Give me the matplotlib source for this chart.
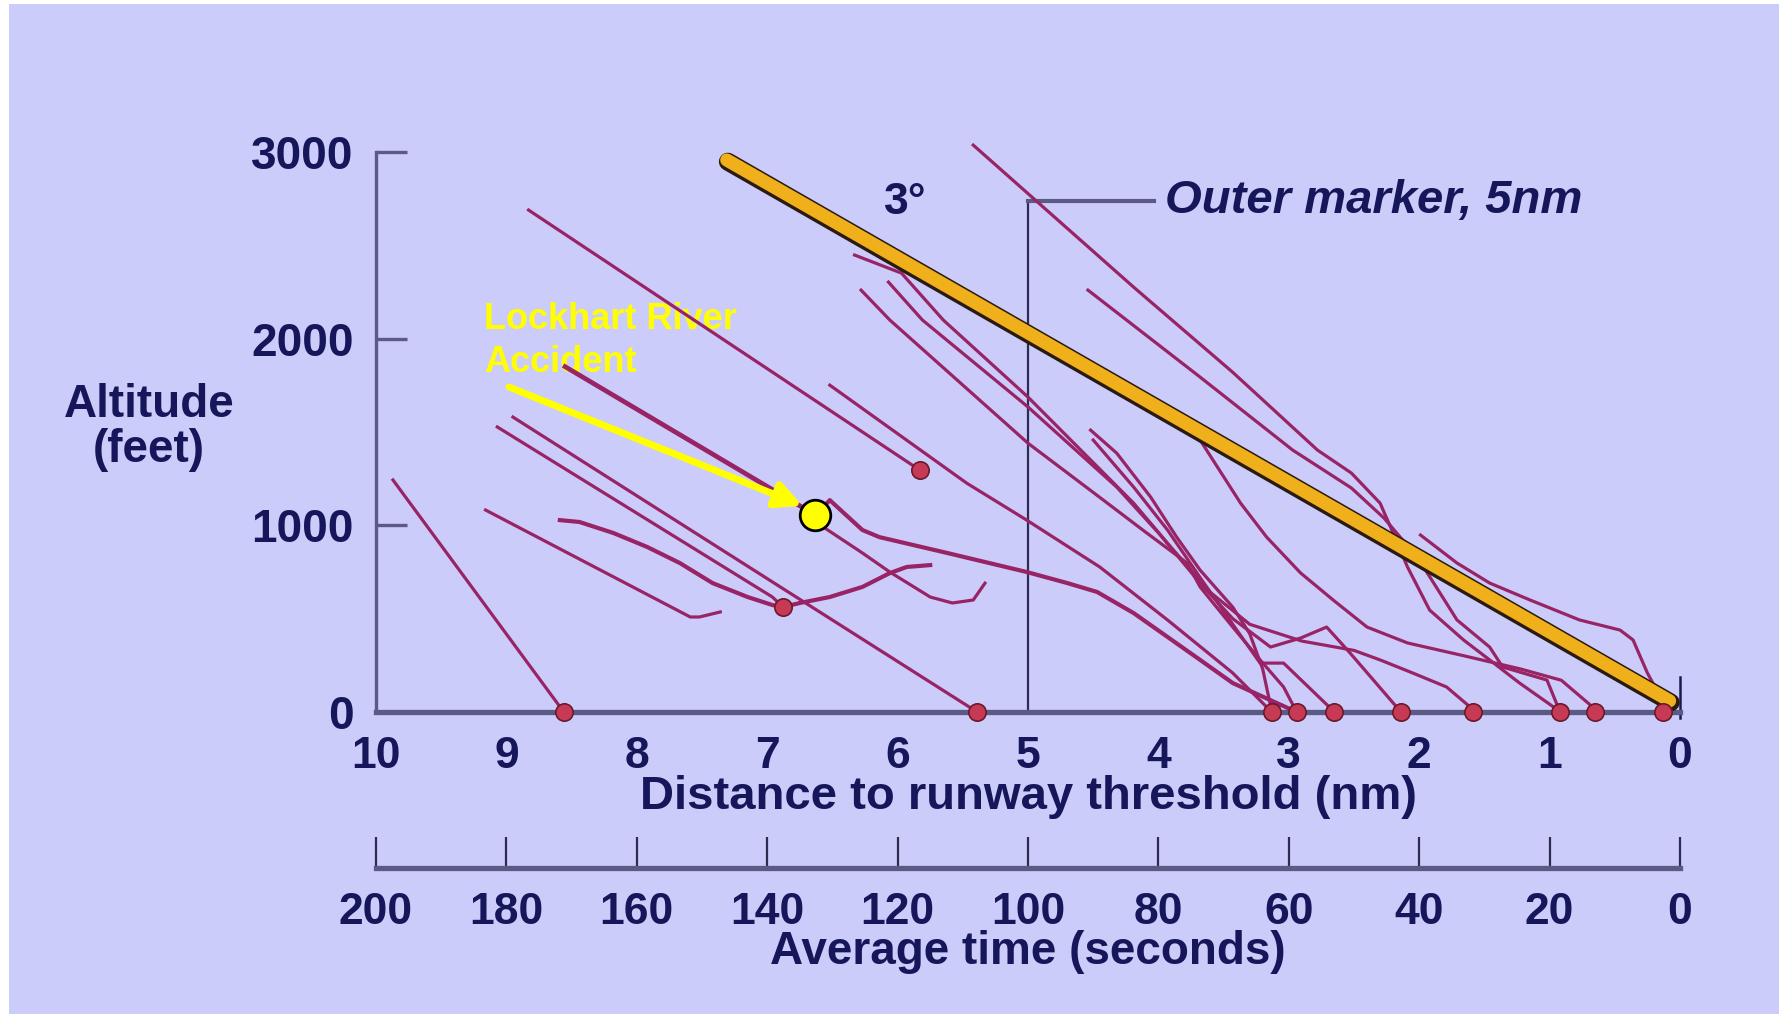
import matplotlib
matplotlib.use("Agg")
import matplotlib.pyplot as plt
import matplotlib.patheffects as pe
from matplotlib.patches import Rectangle

plt.rcParams["font.family"] = ["Liberation Sans", "DejaVu Sans"]
plt.rcParams["font.weight"] = "bold"

# axis scales
dist_ticks = [10, 9, 8, 7, 6, 5, 4, 3, 2, 1, 0]
time_ticks = [200, 180, 160, 140, 120, 100, 80, 60, 40, 20, 0]
alt_ticks = [0, 1000, 2000, 3000]

# 3 degree reference profile (nm, ft)
glide_dist = [7.31, 0.08]
glide_alt = [2957, 60]

# outer marker
om_dist = 5.0
om_alt = 2735
om_label_end = 4.03

# accident position and pointer tail
accident = (6.63, 1055)
pointer_tail = (8.98, 1741)
pointer_tip = (6.73, 1105)

# recorded approach profiles, (distance nm, altitude ft)
path_a = [(9.87, 1243), (8.56, 0)]
path_b = [(9.16, 1082), (7.59, 509), (7.52, 509), (7.36, 536)]
path_c = [(8.59, 1028), (8.44, 1018), (8.18, 959), (7.92, 884), (7.67, 798), (7.42, 691),
          (7.15, 616), (6.96, 573), (6.88, 562), (6.75, 584), (6.52, 616), (6.27, 670),
          (6.06, 744), (5.93, 777), (5.75, 787)]
path_d = [(9.07, 1527), (6.96, 616), (6.88, 562)]
path_e = [(8.95, 1580), (5.39, 0)]
path_lockhart = [(8.55, 1850), (6.63, 1055)]
path_f = [(6.63, 1055), (6.52, 1135), (6.27, 975), (6.14, 937), (5.62, 852), (5.01, 750),
          (4.70, 691), (4.47, 643), (4.19, 530), (3.93, 402), (3.68, 279), (3.43, 155),
          (2.94, 0)]
path_g = [(6.60, 1030), (6.57, 991), (6.27, 852), (6.06, 750), (5.75, 616), (5.58, 584),
          (5.42, 600), (5.35, 670), (5.33, 690)]
path_h = [(8.83, 2689), (5.83, 1296)]
path_i = [(6.52, 1751), (5.47, 1226), (5.01, 1028), (4.45, 777), (3.93, 493), (3.43, 209),
          (3.17, 27), (3.13, 0)]
path_j = [(6.28, 2260), (6.06, 2100), (5.0, 1440), (4.45, 1150), (4.12, 975), (3.78, 798),
          (3.68, 670), (3.43, 455), (3.22, 279), (3.04, 134), (2.94, 0)]
path_k = [(6.07, 2303), (5.81, 2100), (5.0, 1634), (4.32, 1205), (4.0, 960), (3.68, 690),
          (3.43, 500), (3.14, 348), (2.91, 396), (2.71, 455), (2.53, 316), (2.14, 0)]
path_l = [(6.33, 2448), (5.97, 2351), (5.65, 2100), (5.0, 1687), (4.19, 1119), (3.9, 880),
          (3.6, 640), (3.3, 470), (2.9, 380), (2.5, 330), (2.30, 279), (2.05, 209),
          (1.79, 134), (1.61, 27), (1.59, 0)]
path_m = [(4.52, 1510), (4.32, 1387), (4.06, 1152), (3.86, 937), (3.68, 760), (3.43, 562),
          (3.30, 420), (3.20, 230), (3.13, 0)]
path_n = [(4.50, 1457), (4.19, 1205), (3.93, 975), (3.68, 720), (3.43, 470), (3.22, 262),
          (3.04, 262), (2.65, 0)]
path_o = [(5.42, 3037), (4.19, 2276), (3.43, 1820), (2.78, 1403),
          (2.52, 1280), (2.30, 1119), (2.21, 975), (2.09, 777), (1.92, 546), (1.66, 386),
          (1.46, 279), (1.23, 155), (0.97, 27), (0.92, 0)]
path_p = [(4.54, 2260), (3.68, 1794), (2.97, 1403), (2.52, 1200), (2.27, 1039), (2.01, 825),
          (1.71, 493), (1.46, 348), (1.36, 241), (1.02, 171), (0.92, 0)]
path_q = [(4.0, 1640), (3.68, 1457), (3.37, 1119), (3.17, 937), (2.91, 745), (2.66, 600),
          (2.40, 455), (2.09, 370), (1.65, 300), (1.22, 230), (0.91, 170), (0.67, 27), (0.65, 0)]
path_r = [(1.99, 948), (1.71, 798), (1.46, 691), (1.15, 600), (0.77, 493), (0.46, 439),
          (0.36, 386), (0.25, 209), (0.15, 80), (0.13, 0)]

approach_paths = [path_a, path_b, path_c, path_d, path_e, path_f, path_g, path_h, path_i,
                  path_j, path_k, path_l, path_m, path_n, path_o, path_p, path_q, path_r]
heavy_paths = [path_c, path_f]

# end points of the profiles
ground_dots = [8.56, 5.39, 3.13, 2.94, 2.65, 2.14, 1.59, 0.92, 0.65, 0.13]
air_dots_dist = [6.88, 5.83]
air_dots_alt = [562, 1296]

BG = "#CCCCFA"
NAVY = "#16165A"
AXIS = "#5A5A84"
TRACK = "#982466"
W, H = 1786, 1018

fig = plt.figure(figsize=(W / 100, H / 100), dpi=100, facecolor="white")
fig.patches.append(Rectangle((9 / W, 4 / H), 1770 / W, 1010 / H, transform=fig.transFigure,
                             facecolor=BG, edgecolor="none", zorder=-10))

left, right = 376 / W, 1680 / W
ax = fig.add_axes([left, 1 - 712 / H, right - left, (712 - 152) / H])
ax.set_facecolor("none")
ax.set_xlim(10, 0)
ax.set_ylim(0, 3000)
for s in ("top", "right"):
    ax.spines[s].set_visible(False)
ax.spines["left"].set_color(AXIS)
ax.spines["left"].set_linewidth(2.4)
ax.spines["bottom"].set_color(AXIS)
ax.spines["bottom"].set_linewidth(3.8)
ax.set_xticks(dist_ticks)
ax.set_yticks(alt_ticks)
ax.tick_params(axis="y", direction="in", length=22, width=2.4, color=AXIS, pad=16,
               labelsize=33, labelcolor=NAVY)
ax.tick_params(axis="x", length=0, pad=17, labelsize=32, labelcolor=NAVY)

for p in approach_paths:
    xs = [pt[0] for pt in p]
    ys = [pt[1] for pt in p]
    ax.plot(xs, ys, color=TRACK, lw=3.0 if p in heavy_paths else 2.3,
            solid_joinstyle="round", clip_on=False, zorder=3)
lx = [pt[0] for pt in path_lockhart]
ly = [pt[1] for pt in path_lockhart]
ax.plot(lx, ly, color=TRACK, lw=3.4, clip_on=False, zorder=3)

# 3 degree profile
ax.plot(glide_dist, glide_alt, color="#F0B01C", lw=9.5, solid_capstyle="round", zorder=4,
        clip_on=False,
        path_effects=[pe.Stroke(linewidth=13, foreground="#2A1A10", offset=(0.8, -1.2)),
                      pe.Normal()])
ax.text(5.94, 2732, "3°", color=NAVY, fontsize=32, ha="center", va="center")

# outer marker
ax.plot([om_dist, om_dist], [0, om_alt], color="#2C2C55", lw=1.6, zorder=2)
ax.plot([om_dist, om_label_end], [om_alt, om_alt], color=AXIS, lw=3, zorder=2)
ax.text(3.95, om_alt, "Outer marker, 5nm", color=NAVY, fontsize=34, style="italic",
        ha="left", va="center")
ax.plot([0, 0], [-30, 185], color="#1A1A50", lw=1.8, clip_on=False, zorder=2)

# end points
ax.plot(ground_dots, [0] * len(ground_dots), "o", ms=12.5, color="#C63A56",
        mec="#6A1A2A", mew=1.2, clip_on=False, zorder=5)
ax.plot(air_dots_dist, air_dots_alt, "o", ms=12.5, color="#C63A56",
        mec="#6A1A2A", mew=1.2, clip_on=False, zorder=5)

# accident annotation
ax.annotate("", xy=pointer_tip, xytext=pointer_tail, zorder=6,
            arrowprops=dict(arrowstyle="-|>,head_length=0.6,head_width=0.3",
                            mutation_scale=26, color="#FFFF00", lw=5,
                            shrinkA=0, shrinkB=0))
ax.plot([accident[0]], [accident[1]], "o", ms=22, color="#FFFF00", mec="black",
        mew=2, zorder=7)
ax.text(9.17, 2105, "Lockhart River", color="#FFFF00", fontsize=26, ha="left",
        va="center", zorder=1)
ax.text(9.17, 1875, "Accident", color="#FFFF00", fontsize=26, ha="left",
        va="center", zorder=1)

# time scale
ax2 = fig.add_axes([left, 1 - 868 / H, right - left, 0.05])
ax2.set_facecolor("none")
ax2.set_xlim(200, 0)
for s in ("top", "right", "left"):
    ax2.spines[s].set_visible(False)
ax2.spines["bottom"].set_color(AXIS)
ax2.spines["bottom"].set_linewidth(3.8)
ax2.set_yticks([])
ax2.set_xticks(time_ticks)
ax2.tick_params(axis="x", direction="in", length=22, width=1.6, color="#2C2C50",
                pad=17, labelsize=32, labelcolor=NAVY)

# axis titles
fig.text((376 + 1680) / 2 / W, 1 - 797 / H, "Distance to runway threshold (nm)",
         color=NAVY, fontsize=34, ha="center", va="center")
fig.text((376 + 1680) / 2 / W, 1 - 952 / H, "Average time (seconds)",
         color=NAVY, fontsize=33, ha="center", va="center")
fig.text(149 / W, 1 - 405 / H, "Altitude", color=NAVY, fontsize=33, ha="center", va="center")
fig.text(149 / W, 1 - 450 / H, "(feet)", color=NAVY, fontsize=33, ha="center", va="center")

fig.savefig("out.png", dpi=100, facecolor="white")
